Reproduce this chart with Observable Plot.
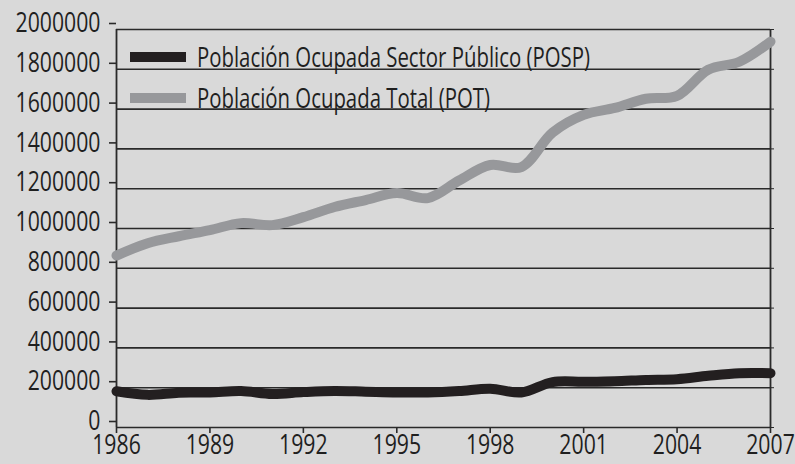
<!DOCTYPE html>
<html>
<head>
<meta charset="utf-8">
<script src="https://cdn.jsdelivr.net/npm/d3@7"></script>
<script src="https://cdn.jsdelivr.net/npm/@observablehq/plot@0.6"></script>
<style>
  html, body { margin: 0; padding: 0; background: #d9d9d9; }
  #wrap { position: relative; width: 795px; height: 464px; overflow: hidden; }
  #legend { position: absolute; left: 130px; top: 36px; font-family: "Open Sans", sans-serif; font-size: 27px; color: #1f1f1f; }
  .item { display: flex; align-items: center; height: 41px; white-space: nowrap; }
  .sw { width: 56px; height: 10px; margin-right: 11px; flex: none; }
  .lt { display: inline-block; transform-origin: 0 50%; }
</style>
</head>
<body>
<div id="wrap"></div>
<script>
const years = d3.range(1986, 2008);
const pospValues = [182000, 164000, 175000, 176000, 183000, 168000, 178000, 184000, 180000, 176000, 176000, 183000, 195000, 176000, 228000, 230000, 233000, 239000, 243000, 260000, 273000, 273000];
const potValues = [864000, 926000, 961000, 992000, 1027000, 1017000, 1057000, 1108000, 1143000, 1178000, 1153000, 1241000, 1319000, 1309000, 1482000, 1571000, 1606000, 1652000, 1667000, 1798000, 1838000, 1939000];
const seriesNames = ["Población Ocupada Sector Público (POSP)", "Población Ocupada Total (POT)"];
const seriesColors = ["#231f20", "#97989b"];
const yTicks = d3.range(0, 2000001, 200000);
const xTicks = [1986, 1989, 1992, 1995, 1998, 2001, 2004, 2007];

const posp = years.map((y, i) => ({year: y, value: pospValues[i]}));
const pot = years.map((y, i) => ({year: y, value: potValues[i]}));

const font = '"Open Sans", sans-serif';
const chart = Plot.plot({
  width: 795,
  height: 464,
  marginLeft: 116,
  marginRight: 25,
  marginTop: 29,
  marginBottom: 37,
  x: {domain: [1986, 2007]},
  y: {domain: [0, 2000000]},
  style: {background: "transparent", fontFamily: font, fontSize: "27px", color: "#1f1f1f"},
  marks: [
    Plot.ruleY(yTicks, {stroke: "#2a2a2a", strokeWidth: 1.6}),
    Plot.ruleX([1986, 2007], {stroke: "#2a2a2a", strokeWidth: 1.8}),
    Plot.line(pot, {x: "year", y: "value", stroke: seriesColors[1], strokeWidth: 10, curve: "catmull-rom"}),
    Plot.line(posp, {x: "year", y: "value", stroke: seriesColors[0], strokeWidth: 10, curve: "catmull-rom"}),
    Plot.axisY({ticks: yTicks, tickSize: 7, tickPadding: 9, dy: -6, tickFormat: d => String(d), label: null, stroke: "#2a2a2a", strokeWidth: 1.6, fontSize: 27}),
    Plot.axisY({anchor: "right", ticks: yTicks, tickSize: 3, tickFormat: () => "", label: null, stroke: "#2a2a2a"}),
    Plot.axisX({ticks: xTicks, tickSize: 6, tickPadding: 1, tickFormat: d => String(d), label: null, stroke: "#2a2a2a", strokeWidth: 1.6, fontSize: 27})
  ]
});
const wrap = document.getElementById("wrap");
wrap.appendChild(chart);

// condense the tick labels horizontally (reference uses a condensed face)
const texts = Array.from(chart.querySelectorAll("text")).filter(t => t.textContent.trim() !== "");
const ref = texts.find(t => t.textContent === "2000000");
const rw = ref ? ref.getBBox().width : 0;
const sx = rw > 0 ? Math.min(1, 85 / rw) : 0.8;
texts.forEach(t => {
  const w = t.getComputedTextLength();
  if (w > 0) {
    t.setAttribute("textLength", (w * sx).toFixed(2));
    t.setAttribute("lengthAdjust", "spacingAndGlyphs");
  }
});

const legend = document.createElement("div");
legend.id = "legend";
const spans = [];
seriesNames.forEach((name, i) => {
  const item = document.createElement("div");
  item.className = "item";
  const sw = document.createElement("span");
  sw.className = "sw";
  sw.style.background = seriesColors[i];
  const t = document.createElement("span");
  t.className = "lt";
  t.textContent = name;
  item.appendChild(sw);
  item.appendChild(t);
  legend.appendChild(item);
  spans.push(t);
});
wrap.appendChild(legend);
const lw = spans[0].getBoundingClientRect().width;
const ls = Math.min(1, 393 / lw);
spans.forEach(s => s.style.transform = `scaleX(${ls})`);
</script>
</body>
</html>
